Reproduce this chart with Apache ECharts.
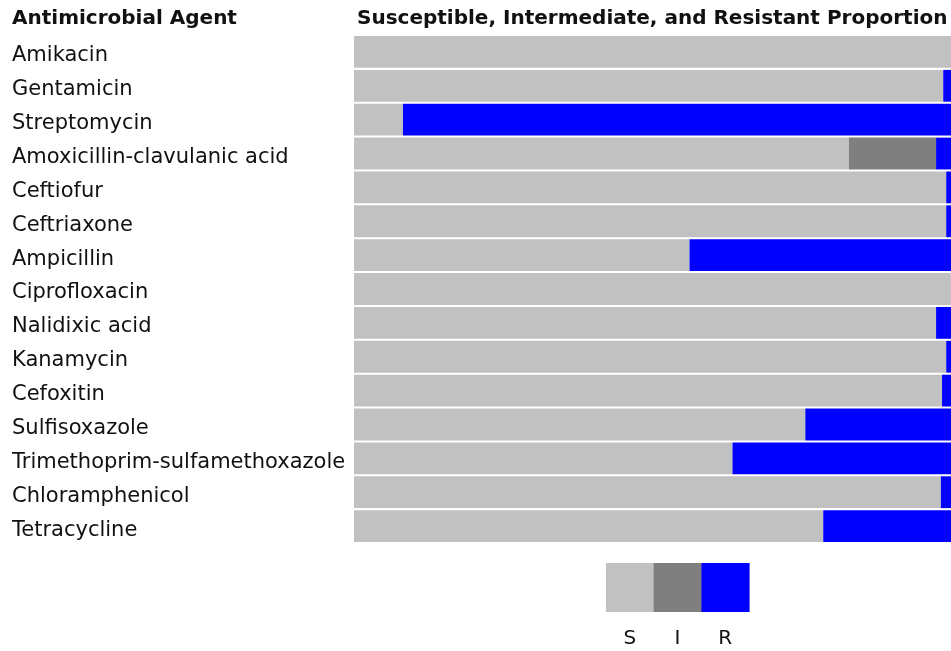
<!DOCTYPE html>
<html>
<head>
<meta charset="utf-8">
<script src="https://cdn.jsdelivr.net/npm/echarts@6/dist/echarts.min.js"></script>
<style>html,body{margin:0;padding:0;background:#fff}#c{width:951px;height:651px}</style>
</head>
<body>
<div id="c"></div>
<script>
const categories = ["Amikacin","Gentamicin","Streptomycin","Amoxicillin-clavulanic acid","Ceftiofur","Ceftriaxone","Ampicillin","Ciprofloxacin","Nalidixic acid","Kanamycin","Cefoxitin","Sulfisoxazole","Trimethoprim-sulfamethoxazole","Chloramphenicol","Tetracycline"];
const susceptible = [100, 98.7, 8.2, 82.9, 99.2, 99.2, 56.2, 100, 97.5, 99.2, 98.5, 75.6, 63.4, 98.3, 78.6];
const intermediate = [0, 0, 0, 14.6, 0, 0, 0, 0, 0, 0, 0, 0, 0, 0, 0];
const resistant = [0, 1.3, 91.8, 2.5, 0.8, 0.8, 43.8, 0, 2.5, 0.8, 1.5, 24.4, 36.6, 1.7, 21.4];
const legendLabels = ["S", "I", "R"];
const colors = ["#c1c1c1", "#7f7f7f", "#0000ff"];

const FONT = "DejaVu Sans";
const chart = echarts.init(document.getElementById('c'), null, {renderer: 'canvas'});
const legendX0 = 606, legendW = 47.7;
const graphics = [];
legendLabels.forEach((lab, i) => {
  graphics.push({type: 'rect', left: legendX0 + i * legendW, top: 563, shape: {width: legendW + 0.5, height: 49}, style: {fill: colors[i]}});
  graphics.push({type: 'text', x: legendX0 + i * legendW + legendW / 2, y: 639, style: {text: lab, fontFamily: FONT, fontSize: 20, fill: '#111', align: 'center', verticalAlign: 'middle'}});
});
chart.setOption({
  backgroundColor: '#fff',
  animation: false,
  title: [
    {text: 'Antimicrobial Agent', left: 12, top: 9, padding: 0, textStyle: {fontFamily: FONT, fontWeight: 'bold', fontSize: 20, color: '#111'}},
    {text: 'Susceptible, Intermediate, and Resistant Proportion', left: 357, top: 9, padding: 0, textStyle: {fontFamily: FONT, fontWeight: 'bold', fontSize: 20, color: '#111'}}
  ],
  grid: {left: 354, top: 35, width: 598, height: 508, containLabel: false},
  xAxis: {type: 'value', min: 0, max: 100, show: false},
  yAxis: {
    type: 'category', data: categories, inverse: true,
    axisLine: {show: false}, axisTick: {show: false}, splitLine: {show: false},
    axisLabel: {
      align: 'left', margin: 342, fontFamily: FONT, fontSize: 21, color: '#111',
      formatter: v => '{a|' + v + '}',
      rich: {a: {fontFamily: FONT, fontSize: 21, color: '#111', padding: [8, 0, 0, 0]}}
    }
  },
  series: [
    {name: 'S', type: 'bar', stack: 'p', data: susceptible, barCategoryGap: '6%', itemStyle: {color: colors[0]}},
    {name: 'I', type: 'bar', stack: 'p', data: intermediate, itemStyle: {color: colors[1]}},
    {name: 'R', type: 'bar', stack: 'p', data: resistant, itemStyle: {color: colors[2]}}
  ],
  graphic: graphics
});
</script>
</body>
</html>
